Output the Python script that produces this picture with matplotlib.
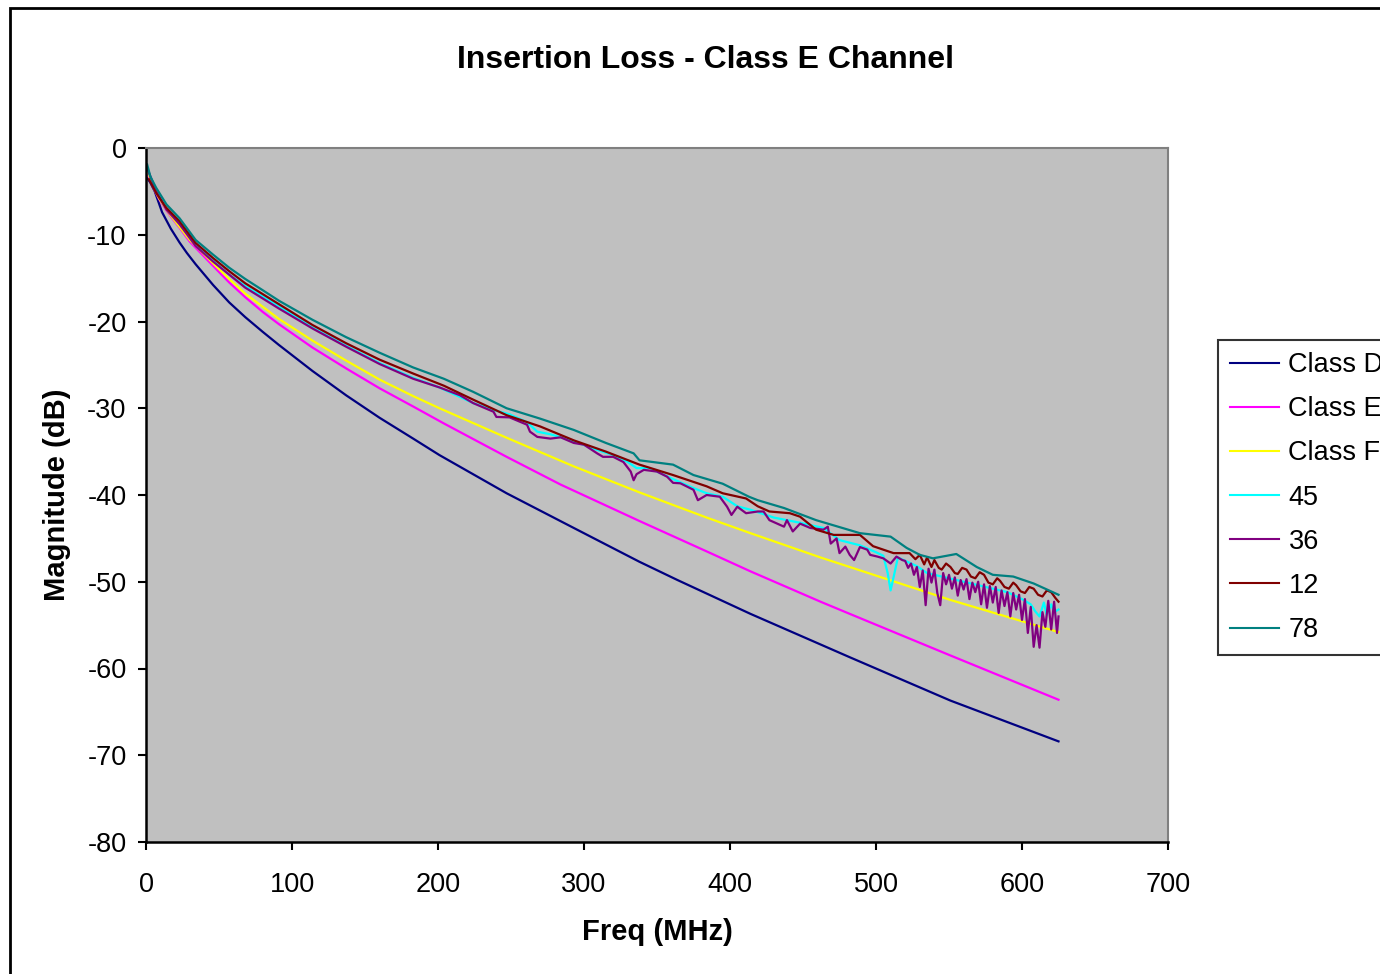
import matplotlib
matplotlib.use("Agg")
import matplotlib.pyplot as plt
from matplotlib.patches import Rectangle

plt.rcParams['font.family'] = ['Liberation Sans', 'DejaVu Sans']
plt.rcParams['axes.unicode_minus'] = False

# ---- data ----
freq_d = [1, 3, 6, 11, 17, 23, 28, 34, 46, 57, 68, 80, 91, 114, 137, 160, 183, 201, 247, 293,
          338, 364, 414, 482, 551, 625]
class_d = [-3.5, -4.0, -5.0, -7.4, -9.3, -10.9, -12.1, -13.4, -15.8, -17.8, -19.5, -21.2, -22.7, -25.7, -28.5, -31.1, -33.5, -35.4, -39.8, -43.8,
           -47.7, -49.8, -53.7, -58.7, -63.7, -68.4]

freq_e = [1, 3, 6, 9, 14, 17, 23, 30, 46, 57, 68, 80, 91, 114, 137, 160, 183, 204, 247, 284,
          338, 384, 414, 462, 482, 551, 625]
class_e = [-3.0, -3.8, -4.9, -5.9, -7.2, -7.9, -9.2, -10.8, -13.6, -15.5, -17.2, -18.9, -20.3, -23.0, -25.4, -27.7, -29.8, -31.75, -35.6, -38.8,
           -43.0, -46.5, -48.8, -52.3, -53.7, -58.5, -63.6]

freq_f = [1, 3, 6, 9, 14, 17, 23, 30, 46, 57, 68, 80, 91, 114, 137, 160, 183, 201, 247, 293,
          338, 384, 414, 462, 482, 551, 625]
class_f = [-2.6, -3.6, -4.8, -5.8, -7.1, -7.8, -9.1, -10.6, -13.3, -15.1, -16.8, -18.3, -19.7, -22.2, -24.5, -26.7, -28.6, -30.0, -33.4, -36.7,
           -39.7, -42.6, -44.4, -47.2, -48.3, -52.1, -55.8]

freq_45 = [1, 7, 14, 23, 34, 46, 57, 68, 80, 91, 114, 137, 160, 183, 201, 224, 238, 249, 261, 268,
           277, 293, 309, 320, 330, 336, 345, 360, 375, 384, 395, 405, 414, 430, 448, 464, 475, 489, 500, 505,
           508, 510, 512, 515, 528, 535, 545, 560, 575, 590, 600, 606, 609, 612, 615, 617, 620, 622, 625]
ch_45 = [-2.5, -4.9, -7.0, -8.7, -11.2, -13.0, -14.6, -15.9, -17.1, -18.2, -20.7, -22.8, -24.8, -26.5, -27.6, -29.4, -30.2, -30.7, -31.6, -32.7,
         -33.0, -33.8, -34.8, -35.4, -36.2, -36.9, -36.9, -38.1, -39.2, -39.8, -40.2, -41.3, -41.7, -42.6, -43.2, -43.8, -45.2, -45.8, -46.6, -47.0,
         -49.0, -51.0, -49.5, -47.2, -48.2, -49.0, -49.4, -50.0, -50.6, -51.2, -52.0, -52.6, -53.4, -54.0, -52.4, -53.8, -52.6, -53.5, -53.2]

freq_36 = [1, 7, 14, 23, 34, 46, 57, 68, 80, 91,
           114, 137, 160, 183, 201, 215, 224, 238, 240, 249,
           261, 263, 268, 277, 284, 293, 300, 309, 313, 320,
           327, 332, 334, 336, 341, 350, 357, 361, 366, 375,
           378, 384, 393, 398, 401, 405, 411, 419, 423, 427,
           437, 439, 443, 448, 455, 464, 467, 469, 473, 475,
           479, 482, 485, 489, 494, 496, 501, 505, 510, 514,
           518, 520, 522, 524, 526, 528, 530, 532, 534, 536,
           538, 540, 542, 544, 546, 548, 550, 552, 554, 556,
           558, 560, 562, 564, 566, 568, 570, 572, 574, 576,
           578, 580, 582, 584, 586, 588, 590, 592, 594, 596,
           598, 600, 602, 604, 606, 608, 610, 612, 614, 616,
           618, 620, 622, 624, 625]
ch_36 = [-2.4, -5.0, -7.1, -8.8, -11.3, -13.1, -14.6, -16.1, -17.35, -18.5,
         -20.8, -22.9, -24.9, -26.6, -27.6, -28.5, -29.4, -30.4, -31.0, -31.05,
         -31.9, -32.7, -33.3, -33.5, -33.35, -34.0, -34.2, -35.2, -35.6, -35.6,
         -36.2, -37.3, -38.3, -37.6, -37.1, -37.3, -37.9, -38.6, -38.65, -39.4,
         -40.6, -40.0, -40.2, -41.35, -42.3, -41.35, -42.1, -41.9, -41.9, -42.9,
         -43.65, -42.9, -44.2, -43.3, -43.8, -44.0, -43.65, -45.6, -45.0, -46.7,
         -45.95, -46.9, -47.5, -46.0, -46.3, -46.9, -47.1, -47.3, -47.9, -47.1,
         -47.5, -47.6, -48.4, -47.9, -49.2, -48.3, -50.6, -48.7, -52.7, -48.5,
         -50.1, -48.6, -51.3, -52.7, -49.0, -50.3, -49.2, -50.8, -49.5, -51.6,
         -49.8, -50.9, -49.7, -52.0, -50.1, -51.2, -50.0, -52.6, -50.3, -53.0,
         -50.5, -52.4, -50.6, -53.6, -51.0, -52.8, -51.2, -54.0, -51.3, -53.2,
         -51.5, -54.4, -52.0, -55.9, -52.9, -57.5, -55.0, -57.6, -53.5, -55.2,
         -52.2, -55.5, -52.3, -55.9, -54.0]

freq_12 = [2, 7, 14, 23, 34, 46, 57, 68, 80, 91, 114, 137, 160, 183, 204, 224, 247, 270, 293, 315,
           338, 361, 384, 395, 411, 419, 427, 441, 448, 459, 471, 489, 498, 512, 523, 527, 530, 533, 535, 538,
           540, 543, 545, 548, 551, 554, 556, 559, 562, 565, 568, 571, 574, 577, 580, 583, 585, 588, 591, 594,
           596, 599, 602, 605, 608, 611, 614, 617, 620, 623, 625]
ch_12 = [-3.6, -5.2, -6.9, -8.45, -10.95, -12.7, -14.2, -15.6, -16.85, -18.0, -20.4, -22.5, -24.4, -26.0, -27.4, -29.0, -30.8, -32.1, -33.7, -35.0,
         -36.5, -37.7, -39.0, -39.8, -40.4, -41.3, -41.9, -42.1, -42.5, -44.0, -44.6, -44.6, -45.9, -46.7, -46.7, -47.4, -46.9, -48.0, -47.2, -48.3,
         -47.5, -48.4, -48.6, -47.9, -48.3, -49.0, -49.1, -48.4, -48.6, -49.4, -49.6, -48.9, -49.2, -50.1, -50.3, -49.6, -49.9, -50.6, -50.8, -50.1,
         -50.4, -51.1, -51.3, -50.6, -50.8, -51.5, -51.7, -51.0, -51.2, -51.9, -52.3]

freq_78 = [0.8, 3, 7, 14, 23, 34, 46, 57, 68, 80, 91, 114, 137, 160, 183, 204, 224, 247, 270, 293,
           315, 334, 338, 361, 375, 395, 413, 419, 437, 459, 475, 489, 510, 521, 530, 539, 555, 569, 580, 594,
           608, 625]
ch_78 = [-1.9, -3.3, -4.6, -6.5, -8.1, -10.6, -12.3, -13.8, -15.1, -16.4, -17.6, -19.8, -21.8, -23.6, -25.3, -26.6, -28.1, -30.0, -31.2, -32.5,
         -34.0, -35.2, -36.0, -36.5, -37.7, -38.7, -40.2, -40.6, -41.5, -42.9, -43.7, -44.4, -44.8, -46.1, -46.9, -47.3, -46.8, -48.3, -49.2, -49.4,
         -50.2, -51.5]

series = [
    ("Class D", freq_d, class_d, "#000080"),
    ("Class E", freq_e, class_e, "#FF00FF"),
    ("Class F", freq_f, class_f, "#FFFF00"),
    ("45", freq_45, ch_45, "#00FFFF"),
    ("36", freq_36, ch_36, "#800080"),
    ("12", freq_12, ch_12, "#800000"),
    ("78", freq_78, ch_78, "#008080"),
]

W, H = 1380, 974
fig = plt.figure(figsize=(W / 100, H / 100), dpi=100)
fig.patch.set_facecolor("white")

# chart-area frame (right/bottom edges fall outside the picture)
fig.patches.append(Rectangle((10 / W, -0.2), 1.5, 1.2 - 8 / H, transform=fig.transFigure,
                             fill=False, edgecolor="black", lw=2.0, clip_on=False))

ax = fig.add_axes([146 / W, 1 - 842 / H, (1168 - 146) / W, (842 - 148) / H])
ax.set_facecolor("#C0C0C0")

for name, x, y, c in series:
    ax.plot(x, y, color=c, lw=1.6, label=name)

ax.set_xlim(0, 700)
ax.set_ylim(-80, 0)
ax.set_xticks(range(0, 701, 100))
ax.set_yticks(range(-80, 1, 10))

for s in ["top", "right"]:
    ax.spines[s].set_color("#808080")
    ax.spines[s].set_linewidth(1.5)
for s in ["left", "bottom"]:
    ax.spines[s].set_color("black")
    ax.spines[s].set_linewidth(1.8)

ax.tick_params(axis="both", direction="out", length=6, width=1.5, labelsize=19.5, colors="black")
ax.tick_params(axis="y", pad=8)
ax.tick_params(axis="x", pad=15.5)

ax.set_xlabel("Freq (MHz)", fontsize=21, fontweight="bold", labelpad=14.5)
ax.set_ylabel("Magnitude (dB)", fontsize=21, fontweight="bold", labelpad=12)

fig.text(705 / W, 1 - 60 / H, "Insertion Loss - Class E Channel", fontsize=23, fontweight="bold",
         ha="center", va="center")

leg = ax.legend(loc="upper left", bbox_to_anchor=(1218 / W, 1 - 340 / H), bbox_transform=fig.transFigure,
                fontsize=19.5, frameon=True, fancybox=False, borderaxespad=0, borderpad=0.45,
                labelspacing=0.67, handlelength=1.8, handletextpad=0.35)
leg.get_frame().set_edgecolor("black")
leg.get_frame().set_linewidth(1.5)
for line in leg.get_lines():
    line.set_linewidth(1.5)

fig.savefig("out.png", dpi=100)
